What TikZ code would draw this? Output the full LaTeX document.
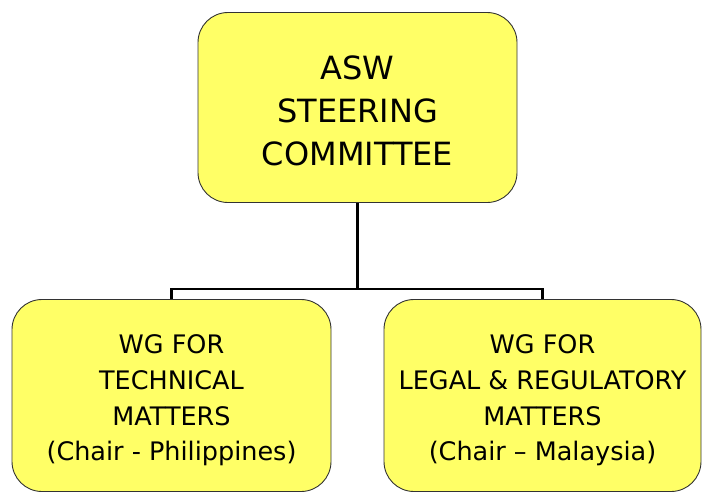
\documentclass[tikz,border=0pt]{standalone}
\usepackage{fontspec}
\setmainfont{DejaVu Sans}
\definecolor{boxyellow}{HTML}{FFFF66}
\definecolor{boxedge}{HTML}{333333}
\begin{document}
\begin{tikzpicture}[x=1pt,y=-1pt,
  orgbox/.style={draw=boxedge, line width=0.9pt, fill=boxyellow, rounded corners=30pt, inner sep=0pt},
  orgtext/.style={align=center, inner sep=0pt},
  conn/.style={draw=black, line width=2.6pt}]
\useasboundingbox (0,0) rectangle (702,498);
\node[orgbox, minimum width=319pt, minimum height=190pt] (sc) at (357.5,107.5) {};
\node[orgtext, font=\fontsize{32}{43}\selectfont] (sct) at ([yshift=-3pt]sc.center) {ASW\\STEERING\\COMMITTEE};
\node[orgbox, minimum width=319pt, minimum height=192pt] (wt) at (171.5,395.5) {};
\node[orgtext, font=\fontsize{25.5}{35.7}\selectfont] (wtt) at ([yshift=-5pt]wt.center) {WG FOR\\TECHNICAL\\MATTERS\\(Chair - Philippines)};
\node[orgbox, minimum width=317pt, minimum height=192pt] (wl) at (542.5,395.5) {};
\node[orgtext, font=\fontsize{25.5}{35.7}\selectfont] (wlt) at ([yshift=-5pt]wl.center) {WG FOR\\LEGAL \& REGULATORY\\MATTERS\\(Chair – Malaysia)};
\coordinate (j) at (357.5,289);
\draw[conn] (sc.south) -- (j);
\draw[conn] (wt.north) |- (j) -| (wl.north);
\end{tikzpicture}
\end{document}
